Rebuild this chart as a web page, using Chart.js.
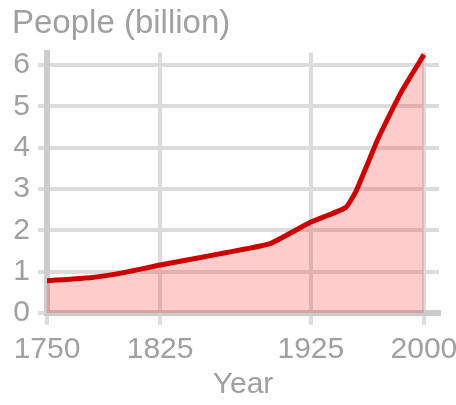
<!DOCTYPE html>
<html>
<head>
<meta charset="utf-8">
<script src="https://cdn.jsdelivr.net/npm/chart.js@4.4.1/dist/chart.umd.min.js"></script>
<style>
  html, body { margin: 0; padding: 0; background: #fff; }
  #wrap { width: 456px; height: 405px; }
</style>
</head>
<body>
<div id="wrap"><canvas id="popChart" width="456" height="405"></canvas></div>
<script>
// world population
const years = [1750, 1780, 1800, 1825, 1850, 1870, 1898, 1925, 1948, 1955, 1970, 1985, 2000];
const people = [0.78, 0.86, 0.97, 1.16, 1.33, 1.47, 1.68, 2.2, 2.55, 2.95, 4.25, 5.35, 6.25];
const xTicks = [1750, 1825, 1925, 2000];
const yTicks = [0, 1, 2, 3, 4, 5, 6];

const grey = '#a0a0a0';
const gridCol = '#dcdcdc';
const fontFam = 'Liberation Sans, Arial, sans-serif';

const ctx = document.getElementById('popChart').getContext('2d');
new Chart(ctx, {
    type: 'line',
    data: {
        datasets: [{
            data: years.map((y, i) => ({ x: y, y: people[i] })),
            borderColor: '#cc0000',
            borderWidth: 5,
            backgroundColor: 'rgba(255,0,0,0.2)',
            fill: 'origin',
            pointRadius: 0,
            tension: 0.15
        }]
    },
    options: {
        responsive: false,
        animation: false,
        layout: { padding: { left: 12, right: 17, top: 0, bottom: 0 } },
        plugins: {
            legend: { display: false },
            tooltip: { enabled: false },
            title: {
                display: true,
                text: 'People (billion)',
                align: 'start',
                color: grey,
                font: { family: fontFam, size: 33, weight: 'normal' },
                padding: { top: 4, bottom: 9 }
            }
        },
        scales: {
            x: {
                type: 'linear',
                min: 1750,
                max: 2010,
                afterBuildTicks: s => { s.ticks = xTicks.map(v => ({ value: v })); },
                afterFit: s => { s.height = 92; s.paddingLeft = 0; s.paddingRight = 0; },
                ticks: {
                    color: grey,
                    font: { family: fontFam, size: 30 },
                    padding: 7,
                    maxRotation: 0,
                    autoSkip: false,
                    callback: v => String(v)
                },
                grid: { color: gridCol, lineWidth: 4, tickLength: 12, tickColor: gridCol },
                border: { color: '#cccccc', width: 6 },
                title: {
                    display: true,
                    text: 'Year',
                    color: grey,
                    font: { family: fontFam, size: 30 },
                    padding: { top: 0, bottom: 2 }
                }
            },
            y: {
                min: 0,
                max: 6.3,
                afterBuildTicks: s => { s.ticks = yTicks.map(v => ({ value: v })); },
                afterFit: s => { s.width = 35; },
                ticks: {
                    color: grey,
                    font: { family: fontFam, size: 30 },
                    padding: 8,
                    callback: v => String(v)
                },
                grid: { color: gridCol, lineWidth: 4, tickLength: 9, tickColor: gridCol },
                border: { color: '#cccccc', width: 6 }
            }
        }
    }
});
</script>
</body>
</html>
